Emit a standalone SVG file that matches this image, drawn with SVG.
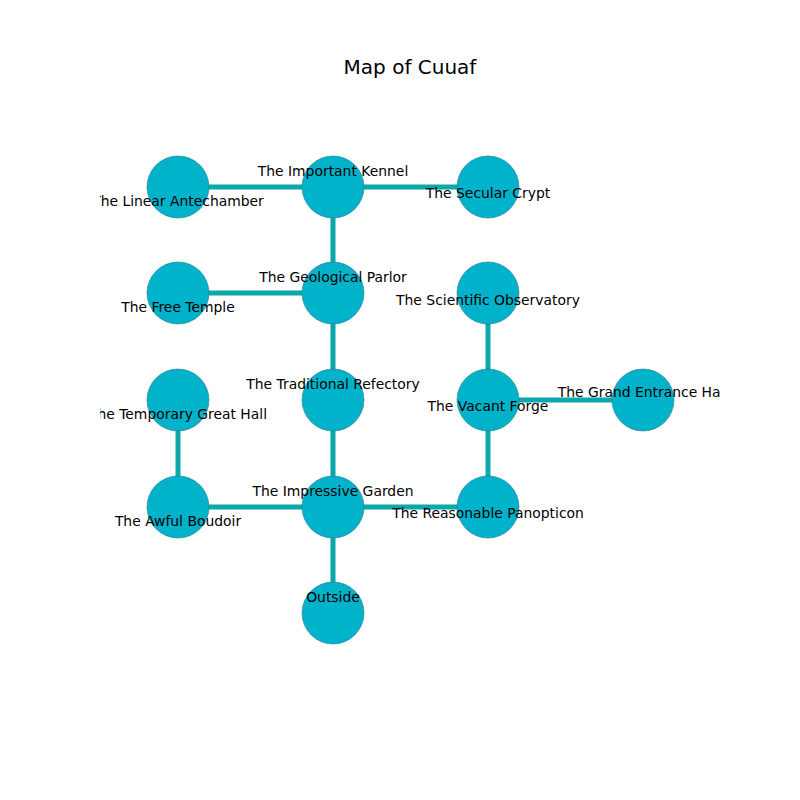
<svg xmlns="http://www.w3.org/2000/svg" width="800" height="800" viewBox="0 0 800 800">
<style>
.edge{stroke:#0aa8aa;stroke-width:5;fill:none}
.node circle{fill:#00b2ca;stroke:#2b7a88;stroke-width:0.6}
.lbl{font-family:"DejaVu Sans",sans-serif;font-size:13.9px;fill:#000;text-anchor:middle}
.title{font-family:"DejaVu Sans",sans-serif;font-size:20px;fill:#000;text-anchor:middle}
</style>
<defs><clipPath id="ax"><rect x="100" y="96" width="620" height="608"/></clipPath></defs>
<rect width="800" height="800" fill="#fff"/>
<text class="title" x="410" y="74">Map of Cuuaf</text>
<g clip-path="url(#ax)">
<g id="edges">
<line class="edge" x1="178" y1="187" x2="333" y2="187"/>
<line class="edge" x1="333" y1="187" x2="488" y2="187"/>
<line class="edge" x1="333" y1="187" x2="333" y2="293"/>
<line class="edge" x1="178" y1="293" x2="333" y2="293"/>
<line class="edge" x1="333" y1="293" x2="333" y2="400"/>
<line class="edge" x1="333" y1="400" x2="333" y2="507"/>
<line class="edge" x1="488" y1="293" x2="488" y2="400"/>
<line class="edge" x1="488" y1="400" x2="643" y2="400"/>
<line class="edge" x1="488" y1="400" x2="488" y2="507"/>
<line class="edge" x1="178" y1="400" x2="178" y2="507"/>
<line class="edge" x1="178" y1="507" x2="333" y2="507"/>
<line class="edge" x1="333" y1="507" x2="488" y2="507"/>
<line class="edge" x1="333" y1="507" x2="333" y2="613"/>
</g>
<g id="n-linear" class="node"><circle cx="178" cy="187" r="31"/><text class="lbl" x="178" y="206">The Linear Antechamber</text></g>
<g id="n-kennel" class="node"><circle cx="333" cy="187" r="31"/><text class="lbl" x="333" y="176">The Important Kennel</text></g>
<g id="n-crypt" class="node"><circle cx="488" cy="187" r="31"/><text class="lbl" x="488" y="198">The Secular Crypt</text></g>
<g id="n-free" class="node"><circle cx="178" cy="293" r="31"/><text class="lbl" x="178" y="312">The Free Temple</text></g>
<g id="n-parlor" class="node"><circle cx="333" cy="293" r="31"/><text class="lbl" x="333" y="282">The Geological Parlor</text></g>
<g id="n-obs" class="node"><circle cx="488" cy="293" r="31"/><text class="lbl" x="488" y="305">The Scientific Observatory</text></g>
<g id="n-temp" class="node"><circle cx="178" cy="400" r="31"/><text class="lbl" x="178" y="419">The Temporary Great Hall</text></g>
<g id="n-refect" class="node"><circle cx="333" cy="400" r="31"/><text class="lbl" x="333" y="389">The Traditional Refectory</text></g>
<g id="n-forge" class="node"><circle cx="488" cy="400" r="31"/><text class="lbl" x="488" y="411">The Vacant Forge</text></g>
<g id="n-grand" class="node"><circle cx="643" cy="400" r="31"/><text class="lbl" x="643" y="397">The Grand Entrance Hall</text></g>
<g id="n-boudoir" class="node"><circle cx="178" cy="507" r="31"/><text class="lbl" x="178" y="526">The Awful Boudoir</text></g>
<g id="n-garden" class="node"><circle cx="333" cy="507" r="31"/><text class="lbl" x="333" y="496">The Impressive Garden</text></g>
<g id="n-panop" class="node"><circle cx="488" cy="507" r="31"/><text class="lbl" x="488" y="518">The Reasonable Panopticon</text></g>
<g id="n-outside" class="node"><circle cx="333" cy="613" r="31"/><text class="lbl" x="333" y="602">Outside</text></g>
</g>
</svg>
